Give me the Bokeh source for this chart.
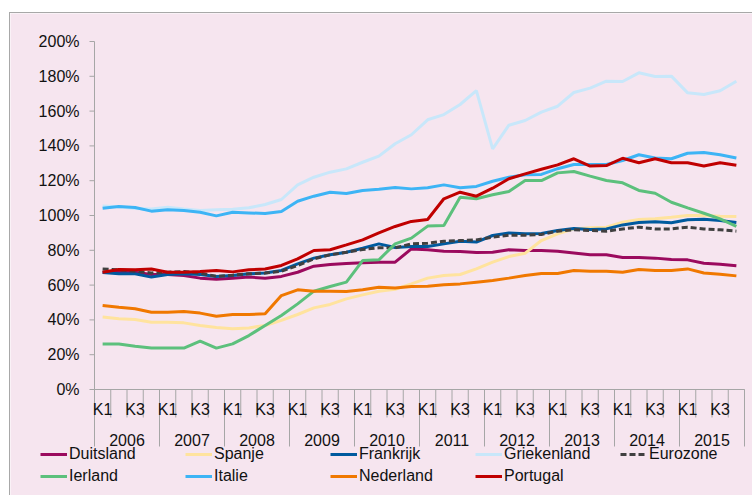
from bokeh.plotting import figure
from bokeh.models import Range1d, Legend, LegendItem, Spacer, ColumnDataSource
from bokeh.core.properties import value
from bokeh.layouts import column, row
from bokeh.embed import file_html
from bokeh.resources import INLINE

years = ["2006", "2007", "2008", "2009", "2010", "2011", "2012", "2013", "2014", "2015"]
quarters = ["K1", "K2", "K3", "K4"]
shown_quarters = ["K1", "K3"]
y_ticks = [0, 20, 40, 60, 80, 100, 120, 140, 160, 180, 200]

duitsland = [67.4, 67.8, 67.4, 66.1, 66.1, 65.5, 64.0, 63.4, 64.0, 64.6,
             64.0, 65.0, 67.4, 70.9, 71.8, 72.4, 72.8, 73.2, 73.2, 80.8,
             80.3, 79.5, 79.3, 78.7, 78.9, 80.3, 79.9, 79.9, 79.5, 78.5,
             77.4, 77.4, 75.9, 75.9, 75.5, 74.7, 74.5, 72.6, 72.0, 71.1]
spanje = [41.6, 40.6, 40.2, 38.7, 38.7, 38.3, 36.8, 35.6, 34.9, 35.4,
          36.8, 39.7, 43.1, 46.9, 48.9, 52.1, 54.4, 56.5, 57.6, 60.7,
          64.0, 65.5, 66.1, 69.3, 73.2, 76.4, 78.3, 85.6, 89.5, 92.3,
          92.9, 93.3, 96.2, 97.7, 98.1, 99.0, 100.0, 100.0, 99.6, 99.4]
frankrijk = [67.2, 66.5, 66.5, 64.6, 66.1, 66.5, 66.1, 65.0, 65.5, 66.5,
             66.9, 68.4, 72.2, 75.5, 77.4, 78.9, 81.2, 83.7, 81.6, 82.2,
             82.2, 83.7, 85.2, 84.7, 88.5, 90.0, 89.5, 89.7, 91.4, 92.5,
             92.0, 92.3, 94.6, 96.0, 96.4, 95.8, 97.5, 97.9, 97.1, 96.0]
griekenland = [105.4, 105.0, 104.0, 103.8, 104.8, 103.8, 102.9, 103.3, 103.6, 104.4,
               106.3, 109.2, 117.6, 122.0, 124.9, 126.8, 130.6, 134.1, 141.2, 146.4,
               155.0, 158.0, 163.8, 171.8, 138.3, 151.9, 154.6, 159.4, 162.8, 170.7,
               173.2, 177.2, 177.0, 182.0, 179.9, 180.1, 170.5, 169.5, 171.7, 177.2]
eurozone = [69.3, 68.8, 68.0, 67.0, 67.4, 67.8, 66.9, 65.0, 65.7, 66.5,
            66.9, 68.0, 71.3, 75.1, 77.4, 78.9, 80.5, 81.4, 81.4, 83.7,
            84.1, 85.2, 85.6, 86.0, 87.5, 88.7, 88.7, 89.1, 91.0, 91.8,
            91.4, 91.0, 92.3, 93.3, 92.3, 92.3, 93.3, 92.3, 91.8, 91.0]
ierland = [26.2, 26.2, 24.9, 23.8, 23.8, 23.8, 27.8, 23.8, 26.2, 31.0,
           36.8, 42.5, 49.2, 56.5, 59.2, 61.7, 74.1, 74.5, 83.7, 87.0,
           93.9, 94.3, 110.5, 109.6, 111.9, 113.8, 120.1, 120.1, 124.5, 125.3,
           122.6, 120.1, 118.8, 114.4, 112.8, 107.6, 104.4, 101.3, 98.1, 93.7]
italie = [104.2, 105.2, 104.6, 102.5, 103.3, 102.9, 101.9, 99.8, 101.9, 101.5,
          101.1, 102.3, 108.2, 111.1, 113.4, 112.6, 114.4, 115.1, 116.1, 115.3,
          115.9, 117.6, 115.9, 116.7, 119.7, 122.0, 123.4, 123.6, 126.9, 129.3,
          129.3, 129.3, 131.6, 134.9, 133.0, 132.6, 135.8, 136.2, 134.9, 133.0]
nederland = [48.3, 47.3, 46.4, 44.4, 44.4, 44.8, 43.9, 42.1, 43.1, 43.1,
             43.5, 54.0, 57.3, 56.5, 56.5, 56.3, 57.3, 58.8, 58.4, 59.2,
             59.4, 60.2, 60.7, 61.7, 62.6, 64.0, 65.5, 66.7, 66.7, 68.4,
             68.0, 68.0, 67.4, 69.0, 68.4, 68.4, 69.3, 67.0, 66.3, 65.3]
portugal = [67.4, 69.0, 68.8, 69.3, 67.4, 67.4, 67.8, 68.4, 67.6, 68.8,
            69.3, 71.3, 75.1, 79.9, 80.3, 83.1, 86.0, 90.0, 93.7, 96.6,
            97.7, 109.6, 113.4, 111.1, 115.7, 121.1, 123.9, 126.6, 129.1, 132.6,
            128.4, 128.7, 132.9, 130.3, 132.6, 130.3, 130.3, 128.4, 130.3, 128.9]

series = [
    ("Duitsland", duitsland, "#9B0A5E", "solid"),
    ("Spanje", spanje, "#FFE39E", "solid"),
    ("Frankrijk", frankrijk, "#005A9E", "solid"),
    ("Griekenland", griekenland, "#C8E7FA", "solid"),
    ("Eurozone", eurozone, "#404040", "6 3"),
    ("Ierland", ierland, "#5CC07C", "solid"),
    ("Italie", italie, "#3DB4F5", "solid"),
    ("Nederland", nederland, "#F07800", "solid"),
    ("Portugal", portugal, "#C00000", "solid"),
]
legend_columns = [["Duitsland", "Ierland"], ["Spanje", "Italie"], ["Frankrijk", "Nederland"],
                  ["Griekenland", "Portugal"], ["Eurozone"]]

PINK = "#F6E5EF"
GRAY = "#A6A6A6"
FONT = value("Liberation Sans")
TXT = "#111111"
FS = value("16px")

# layout constants (pixels)
W, H = 743, 483
LEFT, TOP = 84, 28            # frame origin of the value area inside the canvas
PLOT_W, PLOT_H = 650, 348     # width of 40 quarters, height of 0..200 %
labels = [(y, q) for y in years for q in quarters]
n = len(labels)
PX_X = PLOT_W / n
PX_Y = PLOT_H / 200.0
x0 = -LEFT / PX_X
y1 = 200 + TOP / PX_Y
y0 = y1 - H / PX_Y

p = figure(width=W, height=H, x_range=Range1d(x0, x0 + W / PX_X), y_range=Range1d(y0, y1),
           output_backend="svg", toolbar_location=None,
           x_axis_type=None, y_axis_type=None,
           min_border_left=0, min_border_right=0, min_border_top=0, min_border_bottom=0,
           background_fill_color=PINK, border_fill_color=PINK, outline_line_color=None)
p.styles = {"border-left": "1px solid #A8A8A8", "border-top": "1px solid #A8A8A8"}

# value axis
p.segment(x0=[0], y0=[y_ticks[0]], x1=[0], y1=[y_ticks[-1]], line_color=GRAY, line_width=1)
p.segment(x0=[0] * len(y_ticks), y0=y_ticks, x1=[-5 / PX_X] * len(y_ticks), y1=y_ticks,
          line_color=GRAY, line_width=1)
p.text(x=[-15 / PX_X] * len(y_ticks), y=y_ticks, text=[f"{t}%" for t in y_ticks],
       text_align="right", text_baseline="middle", text_font=FONT, text_font_size=FS,
       text_color=TXT)

# category axis: quarters and years
p.segment(x0=[0], y0=[0], x1=[n], y1=[0], line_color=GRAY, line_width=1)
qb = list(range(n + 1))
p.segment(x0=qb, y0=[0] * len(qb), x1=qb, y1=[-28 / PX_Y] * len(qb), line_color=GRAY, line_width=1)
nq = len(quarters)
yb = [k * nq for k in range(len(years) + 1)]
p.segment(x0=yb, y0=[0] * len(yb), x1=yb, y1=[-57 / PX_Y] * len(yb), line_color=GRAY, line_width=1)
qx = [i + 0.5 for i, (y, q) in enumerate(labels) if q in shown_quarters]
qt = [q for (y, q) in labels if q in shown_quarters]
p.text(x=qx, y=[-20 / PX_Y] * len(qx), text=qt, text_align="center", text_baseline="middle",
       text_font=FONT, text_font_size=FS, text_color=TXT)
ycx = [k * nq + nq / 2 for k in range(len(years))]
p.text(x=ycx, y=[-50 / PX_Y] * len(ycx), text=years, text_align="center", text_baseline="middle",
       text_font=FONT, text_font_size=FS, text_color=TXT)

xs = [i + 0.5 for i in range(n)]
rends = {}
for name, vals, color, dash in series:
    src = ColumnDataSource(dict(x=xs, y=vals))
    rends[name] = p.line("x", "y", source=src, line_color=color, line_width=3, line_dash=dash)

col_x = [30, 175, 320, 465, 610]
for names, vx in zip(legend_columns, col_x):
    items = [LegendItem(label=nm, renderers=[rends[nm]]) for nm in names]
    h = 18 * len(names) + 4 * (len(names) - 1)
    leg = Legend(items=items, location=(vx, H - 432 - h), orientation="vertical",
                 padding=0, margin=0, spacing=4, glyph_width=27, glyph_height=18,
                 label_height=18, label_standoff=2, border_line_color=None,
                 background_fill_alpha=0, label_text_font="Liberation Sans",
                 label_text_font_size="16px", label_text_color=TXT)
    p.add_layout(leg)

layout = column(Spacer(height=12), row(Spacer(width=9), p))
open("out.html", "w").write(file_html(layout, INLINE))
